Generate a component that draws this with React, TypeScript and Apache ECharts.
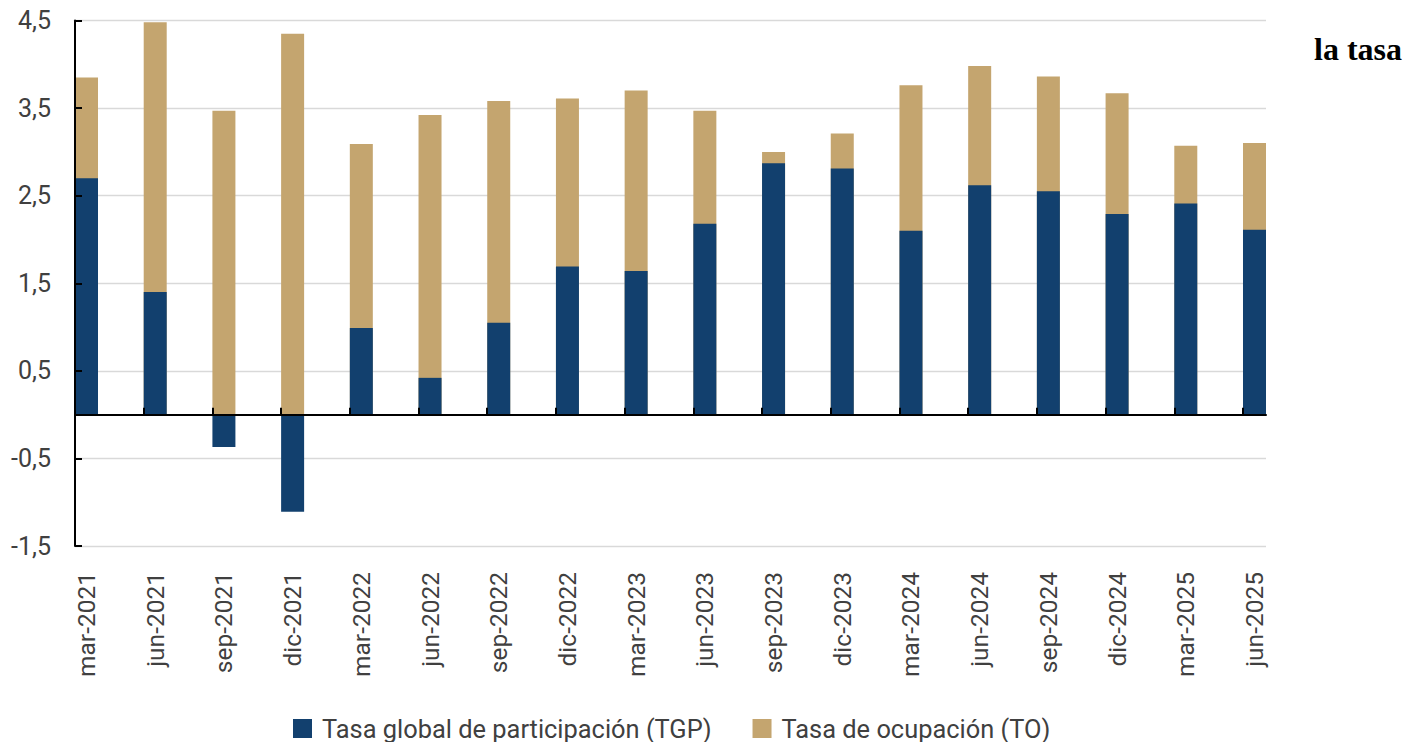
import React, { useEffect, useRef } from "react";
import * as echarts from "echarts";

const categories = [
  "mar-2021", "jun-2021", "sep-2021", "dic-2021", "mar-2022", "jun-2022",
  "sep-2022", "dic-2022", "mar-2023", "jun-2023", "sep-2023", "dic-2023",
  "mar-2024", "jun-2024", "sep-2024", "dic-2024", "mar-2025", "jun-2025",
];

const tgpValues = [
  2.70, 1.40, -0.37, -1.11, 0.99, 0.42, 1.05, 1.69, 1.64, 2.18, 2.87, 2.81,
  2.10, 2.62, 2.55, 2.29, 2.41, 2.11,
];

const toValues = [
  3.85, 4.48, 3.47, 4.35, 3.09, 3.42, 3.58, 3.61, 3.70, 3.47, 3.00, 3.21,
  3.76, 3.98, 3.86, 3.67, 3.07, 3.10,
];

const yTickValues = [-1.5, -0.5, 0.5, 1.5, 2.5, 3.5, 4.5];

const seriesNames = ["Tasa global de participación (TGP)", "Tasa de ocupación (TO)"];

const X_MIN = -0.1674;
const X_MAX = 17.1674;

export default function App() {
  const ref = useRef<HTMLDivElement>(null);

  useEffect(() => {
    if (!ref.current) return;
    const chart = echarts.init(ref.current, null, { renderer: "svg" });
    const textColor = "#404040";
    const font = "Roboto";
    const catPositions = categories.map((_, i) => i);
    const tickPositions = categories.map((_, i) => i + X_MIN);

    chart.setOption({
      animation: false,
      backgroundColor: "#ffffff",
      grid: { left: 75, right: 139, top: 20.5, bottom: 196, containLabel: false },
      legend: {
        data: seriesNames,
        left: 288,
        top: 711,
        itemWidth: 19,
        itemHeight: 19,
        itemGap: 41,
        icon: "rect",
        textStyle: { fontSize: 25.4, color: textColor, fontFamily: font, padding: [0, 0, 0, 5] },
      },
      xAxis: [
        {
          type: "value",
          min: X_MIN,
          max: X_MAX,
          position: "bottom",
          z: 10,
          axisLine: { show: true, onZero: true, lineStyle: { color: "#000000", width: 2 } },
          axisTick: {
            show: true,
            inside: true,
            length: 7,
            customValues: tickPositions,
            lineStyle: { color: "#000000", width: 2 },
          },
          axisLabel: { show: false },
          splitLine: { show: false },
        },
        {
          type: "value",
          min: X_MIN,
          max: X_MAX,
          position: "bottom",
          axisLine: { show: false, onZero: false },
          axisTick: { show: false },
          splitLine: { show: false },
          axisLabel: {
            show: true,
            customValues: catPositions,
            rotate: 90,
            margin: 26,
            fontSize: 24.5,
            fontFamily: font,
            color: textColor,
            formatter: (v: number) => categories[Math.round(v)] ?? "",
          },
        },
      ],
      yAxis: [
        {
          type: "value",
          min: -1.5,
          max: 4.5,
          position: "left",
          axisLine: { show: false, onZero: false },
          axisTick: { show: false, customValues: yTickValues },
          splitLine: { show: true, lineStyle: { color: "#d9d9d9", width: 1.3 } },
          axisLabel: {
            show: true,
            customValues: yTickValues,
            margin: 24,
            fontSize: 25,
            fontFamily: font,
            color: textColor,
            formatter: (v: number) => v.toFixed(1).replace(".", ","),
          },
        },
        {
          type: "value",
          min: -1.5,
          max: 4.5,
          position: "left",
          z: 10,
          axisLine: { show: true, onZero: false, lineStyle: { color: "#000000", width: 2 } },
          axisTick: {
            show: true,
            inside: true,
            length: 7,
            customValues: yTickValues,
            lineStyle: { color: "#000000", width: 2 },
          },
          axisLabel: { show: false },
          splitLine: { show: false },
        },
      ],
      series: [
        {
          name: seriesNames[0],
          type: "bar",
          xAxisIndex: 0,
          yAxisIndex: 0,
          barWidth: 23,
          barGap: "-100%",
          clip: false,
          z: 3,
          itemStyle: { color: "#12406E" },
          data: tgpValues.map((v, i) => [i, v]),
        },
        {
          name: seriesNames[1],
          type: "bar",
          xAxisIndex: 0,
          yAxisIndex: 0,
          barWidth: 23,
          barGap: "-100%",
          clip: false,
          z: 2,
          itemStyle: { color: "#C4A56F" },
          data: toValues.map((v, i) => [i, v]),
        },
      ],
      graphic: [
        {
          type: "text",
          left: 1314,
          top: 33,
          style: {
            text: "la tasa",
            fontSize: 32,
            fontWeight: "bold",
            fontFamily: "'Liberation Serif', 'Times New Roman', serif",
            fill: "#000000",
          },
        },
      ],
    });

    return () => chart.dispose();
  }, []);

  return (
    <div
      ref={ref}
      style={{ position: "fixed", left: 0, top: 0, width: 1405, height: 742 }}
    />
  );
}
